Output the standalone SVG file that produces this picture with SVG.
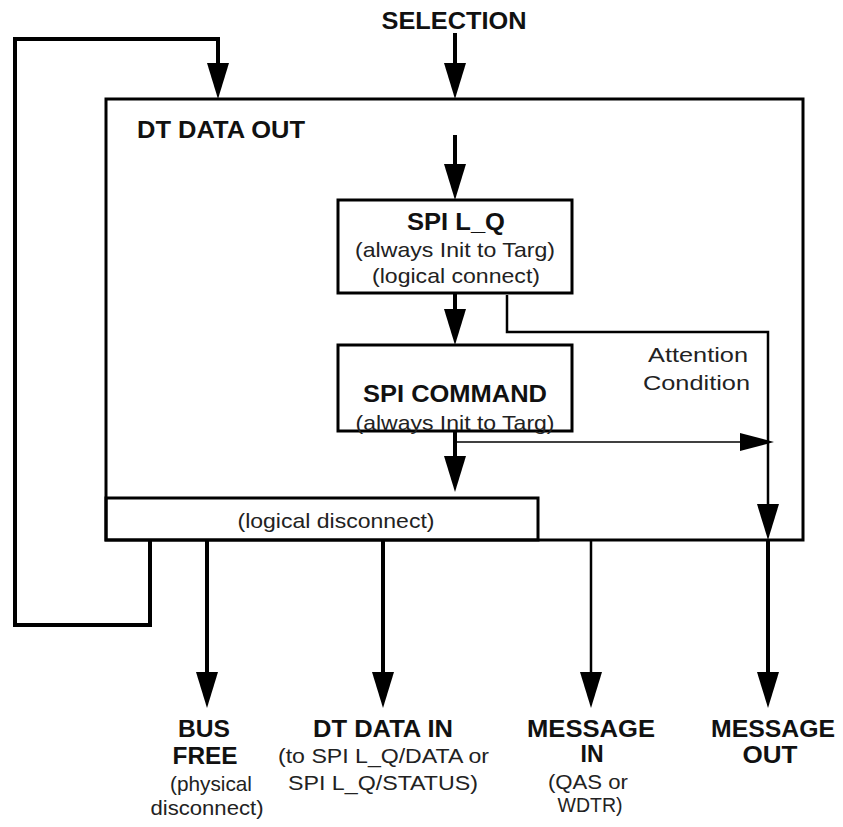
<svg xmlns="http://www.w3.org/2000/svg" width="843" height="827" viewBox="0 0 843 827">
<style>
.box{fill:none;stroke:#000;stroke-width:3}
.b{font-family:"Liberation Sans",Arial,sans-serif;font-weight:bold;font-size:23px;fill:#111}
.r{font-family:"Liberation Sans",Arial,sans-serif;font-size:21px;fill:#222}
.c{fill:none;stroke:#000;stroke-width:4}
.m{fill:none;stroke:#000;stroke-width:2.5}
.t{fill:none;stroke:#000;stroke-width:1.5}
</style>
<defs>
<marker id="ah" markerUnits="userSpaceOnUse" markerWidth="36" markerHeight="22" viewBox="0 0 36 22" refX="16" refY="11" orient="auto"><path d="M0,0 L36,11 L0,22 z" fill="#000"/></marker>
<marker id="as" markerUnits="userSpaceOnUse" markerWidth="34" markerHeight="18" viewBox="0 0 34 18" refX="14" refY="9" orient="auto"><path d="M0,0 L34,9 L0,18 z" fill="#000"/></marker>
</defs>
<text class="b" x="454" y="29" text-anchor="middle" textLength="145" lengthAdjust="spacingAndGlyphs">SELECTION</text>
<g id="dt-data-out">
<rect class="box" x="106" y="99" width="697" height="441"/>
<text class="b" x="137" y="138" textLength="168" lengthAdjust="spacingAndGlyphs">DT DATA OUT</text>
</g>
<g id="spi-lq">
<rect class="box" x="338" y="200" width="234" height="93" fill="#fff"/>
<text class="b" x="456" y="230" text-anchor="middle" textLength="98" lengthAdjust="spacingAndGlyphs">SPI L_Q</text>
<text class="r" x="455" y="257" text-anchor="middle" textLength="200" lengthAdjust="spacingAndGlyphs">(always Init to Targ)</text>
<text class="r" x="456" y="283" text-anchor="middle" textLength="168" lengthAdjust="spacingAndGlyphs">(logical connect)</text>
</g>
<g id="spi-command">
<rect class="box" x="338" y="345" width="234" height="86"/>
<text class="b" x="455" y="402" text-anchor="middle" textLength="184" lengthAdjust="spacingAndGlyphs">SPI COMMAND</text>
<text class="r" x="455" y="430" text-anchor="middle" textLength="199" lengthAdjust="spacingAndGlyphs">(always Init to Targ)</text>
</g>
<g id="logical-disconnect">
<rect class="box" x="106" y="498" width="432" height="42"/>
<text class="r" x="336" y="528" text-anchor="middle" textLength="197" lengthAdjust="spacingAndGlyphs">(logical disconnect)</text>
</g>
<g id="attention-label">
<text class="r" x="748" y="362" text-anchor="end" textLength="100" lengthAdjust="spacingAndGlyphs">Attention</text>
<text class="r" x="750" y="390" text-anchor="end" textLength="107" lengthAdjust="spacingAndGlyphs">Condition</text>
</g>
<g id="connectors">
<path class="c" d="M455,33 V79" marker-end="url(#ah)"/>
<path class="c" d="M150,540 V625 H15 V39 H218 V79" marker-end="url(#ah)"/>
<path class="c" d="M455,135 V180" marker-end="url(#ah)"/>
<path class="c" d="M455,293 V325" marker-end="url(#ah)"/>
<path class="m" d="M507,295 V332 H768 V520" marker-end="url(#ah)"/>
<path class="c" d="M455,431 V472" marker-end="url(#ah)"/>
<path class="t" d="M455,442 H754" marker-end="url(#as)"/>
<path class="c" d="M207,540 V688" marker-end="url(#ah)"/>
<path class="c" d="M383,540 V688" marker-end="url(#ah)"/>
<path class="m" d="M591,540 V688" marker-end="url(#ah)"/>
<path class="c" d="M768,540 V688" marker-end="url(#ah)"/>
</g>
<g id="bus-free">
<text class="b" x="204" y="737" text-anchor="middle" textLength="52" lengthAdjust="spacingAndGlyphs">BUS</text>
<text class="b" x="205" y="764" text-anchor="middle" textLength="65" lengthAdjust="spacingAndGlyphs">FREE</text>
<text class="r" x="211" y="791" text-anchor="middle" textLength="82" lengthAdjust="spacingAndGlyphs">(physical</text>
<text class="r" x="207" y="815" text-anchor="middle" textLength="113" lengthAdjust="spacingAndGlyphs">disconnect)</text>
</g>
<g id="dt-data-in">
<text class="b" x="383" y="737" text-anchor="middle" textLength="140" lengthAdjust="spacingAndGlyphs">DT DATA IN</text>
<text class="r" x="278" y="763" textLength="211" lengthAdjust="spacingAndGlyphs">(to SPI L_Q/DATA or</text>
<text class="r" x="288" y="790" textLength="190" lengthAdjust="spacingAndGlyphs">SPI L_Q/STATUS)</text>
</g>
<g id="message-in">
<text class="b" x="591" y="737" text-anchor="middle" textLength="128" lengthAdjust="spacingAndGlyphs">MESSAGE</text>
<text class="b" x="592" y="762" text-anchor="middle" textLength="23" lengthAdjust="spacingAndGlyphs">IN</text>
<text class="r" x="588" y="789" text-anchor="middle" textLength="80" lengthAdjust="spacingAndGlyphs">(QAS or</text>
<text class="r" x="590" y="812" text-anchor="middle" textLength="65" lengthAdjust="spacingAndGlyphs">WDTR)</text>
</g>
<g id="message-out">
<text class="b" x="773" y="737" text-anchor="middle" textLength="124" lengthAdjust="spacingAndGlyphs">MESSAGE</text>
<text class="b" x="770" y="763" text-anchor="middle" textLength="55" lengthAdjust="spacingAndGlyphs">OUT</text>
</g>
</svg>
